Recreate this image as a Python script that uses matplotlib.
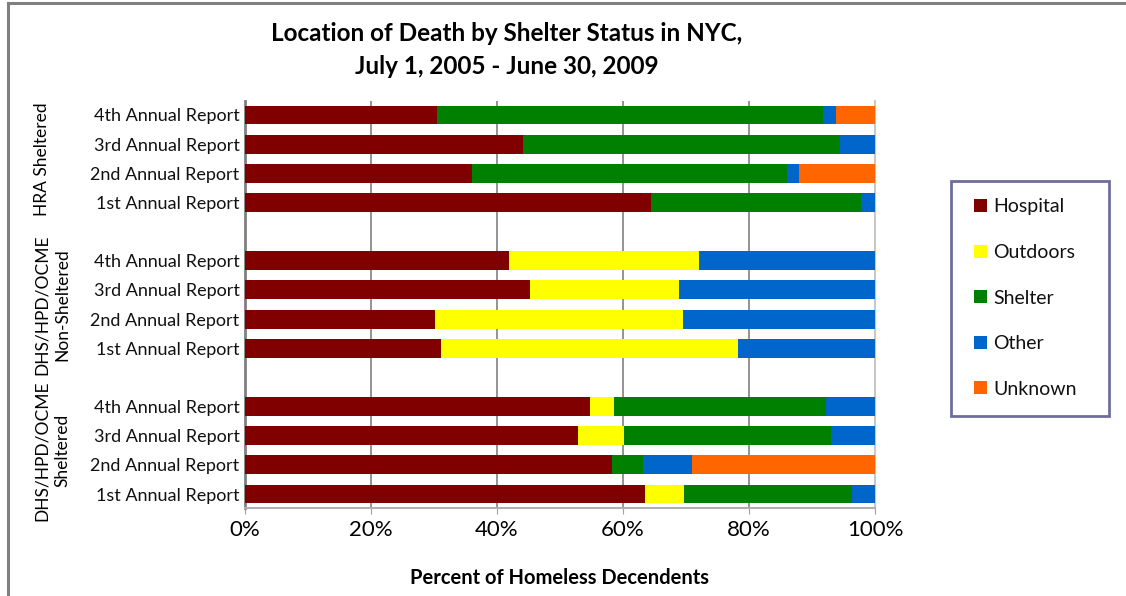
import matplotlib
matplotlib.use("Agg")
import matplotlib.pyplot as plt
from matplotlib.lines import Line2D
from matplotlib.patches import Rectangle
import numpy as np

plt.rcParams['font.family'] = ['Lato', 'DejaVu Sans']

groups = ["HRA Sheltered", "DHS/HPD/OCME\nNon-Sheltered", "DHS/HPD/OCME\nSheltered"]
reports = ["4th Annual Report", "3rd Annual Report", "2nd Annual Report", "1st Annual Report"]
locations = ["Hospital", "Outdoors", "Shelter", "Other", "Unknown"]
colors = ["#800000", "#FFFF00", "#008000", "#0066CC", "#FF6600"]

# values per group, rows in order of `reports`, columns in order of `locations`
hra_sheltered = [
    [30.5, 0.0, 61.3, 2.0, 6.2],
    [44.2, 0.0, 50.2, 5.6, 0.0],
    [36.0, 0.0, 50.1, 1.8, 12.1],
    [64.4, 0.0, 33.4, 2.2, 0.0],
]
dhs_non_sheltered = [
    [41.9, 30.2, 0.0, 27.9, 0.0],
    [45.2, 23.7, 0.0, 31.1, 0.0],
    [30.1, 39.4, 0.0, 30.5, 0.0],
    [31.1, 47.2, 0.0, 21.7, 0.0],
]
dhs_sheltered = [
    [54.7, 3.8, 33.8, 7.7, 0.0],
    [52.9, 7.2, 32.9, 7.0, 0.0],
    [58.3, 0.0, 4.9, 7.7, 29.1],
    [63.5, 6.2, 26.6, 3.7, 0.0],
]
group_data = [hra_sheltered, dhs_non_sheltered, dhs_sheltered]

W, H = 1126, 596
fig = plt.figure(figsize=(W / 100, H / 100), dpi=100)
ax = fig.add_axes([245 / W, 1 - 508 / H, (875 - 245) / W, (508 - 101) / H])

n_rep = len(reports)
ypos, labels, rows = [], [], []
for g, data in enumerate(group_data):
    for r in range(n_rep):
        ypos.append(g * (n_rep + 1) + r)
        labels.append(reports[r])
        rows.append(data[r])
ypos = np.array(ypos, dtype=float)
rows = np.array(rows, dtype=float)

left = np.zeros(len(ypos))
for k, loc in enumerate(locations):
    ax.barh(ypos, rows[:, k], left=left, height=0.65, color=colors[k],
            label=loc, zorder=3, linewidth=0)
    left += rows[:, k]

ax.set_ylim(ypos.max() + 0.48, -0.48)
ax.set_xlim(0, 100)
ax.set_yticks(ypos)
ax.set_yticklabels(labels, fontsize=13, color="#111111")
ax.tick_params(axis='y', length=0, pad=4)
ax.set_xticks([0, 20, 40, 60, 80, 100])
ax.set_xticklabels(["0%", "20%", "40%", "60%", "80%", "100%"], fontsize=16)
ax.tick_params(axis='x', length=4, color="#a0a0a0", pad=5)
ax.xaxis.grid(True, color="#808080", linewidth=1.2, zorder=0)
ax.spines['top'].set_visible(False)
ax.spines['left'].set_color("#808080")
ax.spines['left'].set_linewidth(2)
ax.spines['bottom'].set_color("#b0b0b0")
ax.spines['bottom'].set_linewidth(1.5)
ax.spines['right'].set_color("#c8c8c8")
ax.spines['right'].set_linewidth(1.5)

ax.set_xlabel("Percent of Homeless Decendents", fontsize=14.5, fontweight='bold',
              labelpad=20)

# group labels
for g, name in enumerate(groups):
    yc = ypos[g * n_rep: (g + 1) * n_rep].mean()
    xfig = 42 / W if "\n" not in name else 52 / W
    ydisp = fig.transFigure.inverted().transform(ax.transData.transform((0, yc)))[1]
    fig.text(xfig, ydisp, name, rotation=90, ha='center', va='center',
             fontsize=12.5, linespacing=1.3)

fig.text(507 / W, 1 - 50 / H, "Location of Death by Shelter Status in NYC,\nJuly 1, 2005 - June 30, 2009",
         ha='center', va='center', fontsize=17.5, fontweight='bold', linespacing=1.5)

# legend with manual frame
fig.add_artist(Rectangle((951 / W, 1 - 416 / H), 158 / W, 235 / H, transform=fig.transFigure,
                         facecolor="white", edgecolor="#6E6E9E", linewidth=2, zorder=1))
leg = fig.legend(loc='center left', bbox_to_anchor=(974 / W, 1 - 298 / H),
                 fontsize=14, handlelength=0.65, handleheight=0.65,
                 handletextpad=0.35, labelspacing=1.47, borderpad=0,
                 frameon=False, borderaxespad=0)
leg.set_zorder(2)
for t in leg.get_texts():
    t.set_color("#111111")

# outer border lines
fig.add_artist(Line2D([8 / W, 8 / W], [0, 1 - 3 / H], transform=fig.transFigure,
                      color="#808080", linewidth=2.2))
fig.add_artist(Line2D([8 / W, 1], [1 - 3 / H, 1 - 3 / H], transform=fig.transFigure,
                      color="#808080", linewidth=2.2))

fig.savefig("out.png", dpi=100, facecolor="white")
